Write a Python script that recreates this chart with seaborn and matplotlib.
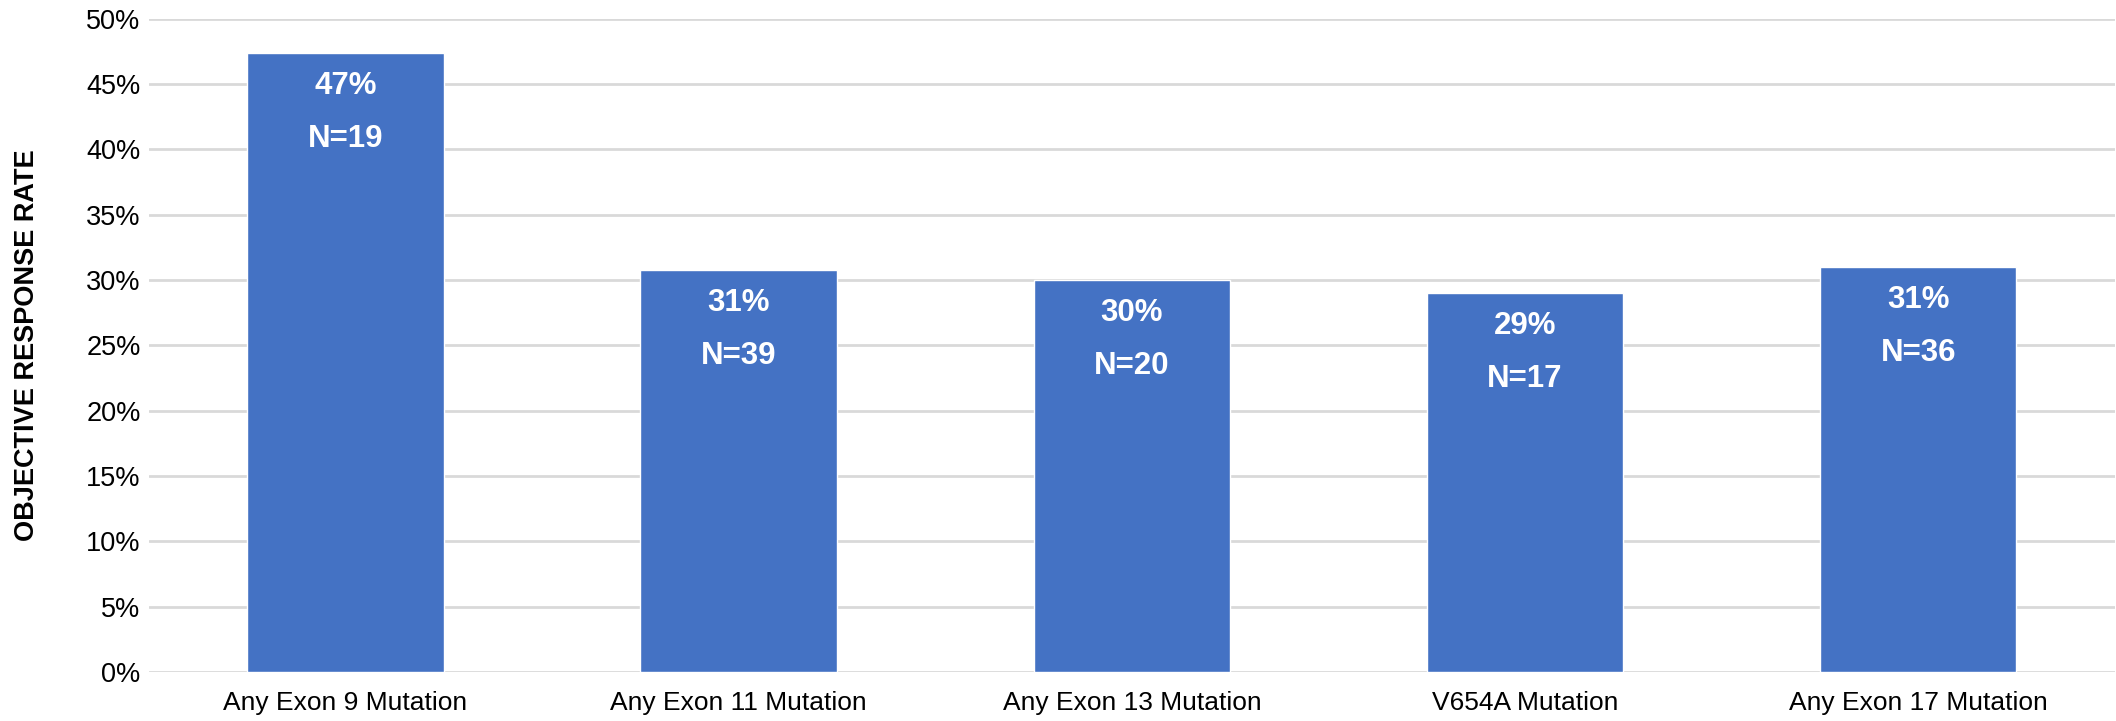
import matplotlib
matplotlib.use("Agg")
import matplotlib.pyplot as plt
import seaborn as sns
import pandas as pd

# Objective response rate by KIT mutation subgroup
categories = ["Any Exon 9 Mutation", "Any Exon 11 Mutation", "Any Exon 13 Mutation",
              "V654A Mutation", "Any Exon 17 Mutation"]
orr_pct = [47.4, 30.8, 30.0, 29.0, 31.0]
n_patients = [19, 39, 20, 17, 36]
y_ticks = [0, 5, 10, 15, 20, 25, 30, 35, 40, 45, 50]

df = pd.DataFrame({"group": categories, "orr": orr_pct, "n": n_patients})

sns.set_theme(style="white")
plt.rcParams["font.family"] = ["Liberation Sans", "DejaVu Sans"]

fig = plt.figure(figsize=(21.16, 7.21), dpi=100)
ax = fig.add_axes([0.0704, 0.068, 0.929, 0.906])

sns.barplot(data=df, x="group", y="orr", color="#4472C4", saturation=1,
            width=0.5, ax=ax, zorder=3)

ax.set_ylim(0, 50)
ax.set_xlim(-0.5, len(categories) - 0.5)
ax.set_yticks(y_ticks)
ax.set_yticklabels([f"{t}%" for t in y_ticks])
ax.yaxis.grid(True, color="#d9d9d9", linewidth=2, zorder=0)
ax.xaxis.grid(False)
for s in ax.spines.values():
    s.set_visible(False)
ax.tick_params(axis="y", length=0, pad=6, labelsize=19.5, labelcolor="black")
ax.tick_params(axis="x", length=0, pad=14, labelsize=19, labelcolor="black")
ax.set_xlabel("")
ax.set_ylabel("OBJECTIVE RESPONSE RATE", fontsize=19.5, fontweight="bold",
              color="black", labelpad=33)

# Value and sample-size labels inside each bar
for i, (v, n) in enumerate(zip(orr_pct, n_patients)):
    ax.annotate(f"{round(v)}%", xy=(i, v), xytext=(0, -24), textcoords="offset points",
                ha="center", va="center", color="white", fontsize=22.5,
                fontweight="bold", zorder=5)
    ax.annotate(f"N={n}", xy=(i, v), xytext=(0, -62), textcoords="offset points",
                ha="center", va="center", color="white", fontsize=22.5,
                fontweight="bold", zorder=5)

fig.savefig("out.png", dpi=100, facecolor="white")
